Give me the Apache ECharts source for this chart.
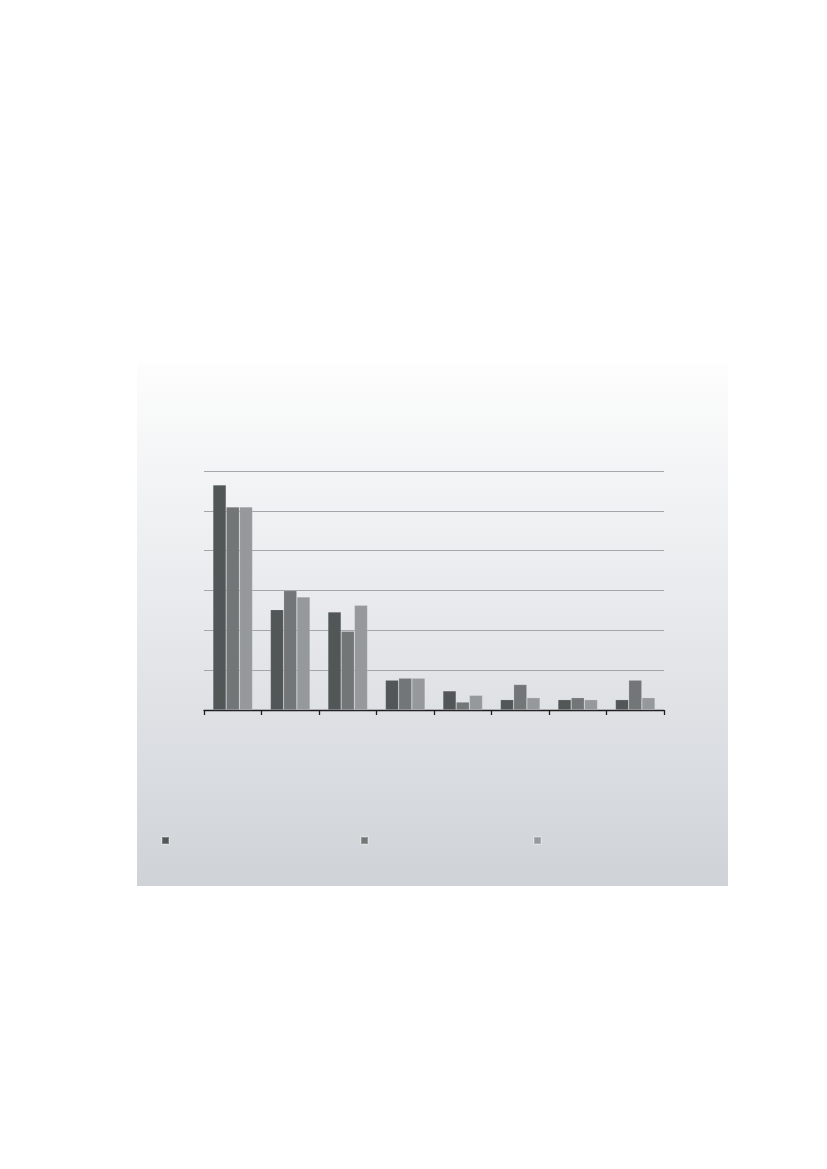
<!DOCTYPE html>
<html>
<head>
<meta charset="utf-8">
<script src="https://cdn.jsdelivr.net/npm/echarts@6/dist/echarts.min.js"></script>
<style>
html,body{margin:0;padding:0;background:#fff;}
#chart{width:827px;height:1169px;}
</style>
</head>
<body>
<div id="chart"></div>
<script>
var categories = ['1', '2', '3', '4', '5', '6', '7', '8'];
var seriesNames = ['Series 1', 'Series 2', 'Series 3'];
var series1 = [5.65, 2.52, 2.46, 0.75, 0.48, 0.26, 0.26, 0.26];
var series2 = [5.10, 3.00, 1.98, 0.80, 0.20, 0.64, 0.31, 0.75];
var series3 = [5.10, 2.84, 2.63, 0.80, 0.37, 0.31, 0.26, 0.31];
var colors = ['#515657', '#727677', '#95999b'];

var chart = echarts.init(document.getElementById('chart'), null, {renderer: 'canvas'});
function mkLegend(name, left) {
  return {
    data: [name], left: left, top: 836, icon: 'rect', itemWidth: 7, itemHeight: 7,
    formatter: function () { return ''; }, textStyle: {fontSize: 1}, selectedMode: false, padding: 0
  };
}
var allData = [series1, series2, series3];
chart.setOption({
  animation: false,
  backgroundColor: '#ffffff',
  color: colors,
  graphic: [{
    type: 'rect', left: 137, top: 363, z: -10,
    shape: {width: 591, height: 523},
    style: {
      fill: new echarts.graphic.LinearGradient(0, 0, 0, 1, [
        {offset: 0, color: '#fdfdfd'},
        {offset: 0.5, color: '#e6e8eb'},
        {offset: 1, color: '#cfd3d8'}
      ])
    }
  }],
  legend: [mkLegend(seriesNames[0], 161), mkLegend(seriesNames[1], 360), mkLegend(seriesNames[2], 533)],
  grid: {left: 204, right: 163, top: 471, bottom: 459, containLabel: false},
  xAxis: {
    type: 'category', data: categories, boundaryGap: true,
    axisLine: {lineStyle: {color: '#1e1e1e', width: 1.3}},
    axisTick: {show: true, inside: false, length: 5, lineStyle: {color: '#1e1e1e', width: 1.3}},
    axisLabel: {show: false}
  },
  yAxis: {
    type: 'value', min: 0, max: 6, interval: 1,
    axisLine: {show: false}, axisTick: {show: false}, axisLabel: {show: false},
    splitLine: {lineStyle: {color: '#a4a7aa', width: 1}}
  },
  series: seriesNames.map(function (n, i) {
    return {
      name: n, type: 'bar', data: allData[i], barGap: '0%', barCategoryGap: '31%',
      itemStyle: {color: colors[i], borderColor: 'rgba(255,255,255,0.25)', borderWidth: 0.6}
    };
  })
});
</script>
</body>
</html>
